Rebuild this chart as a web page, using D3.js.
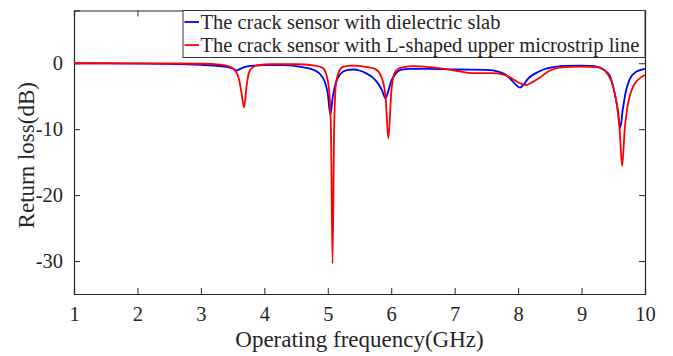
<!DOCTYPE html>
<html>
<head>
<meta charset="utf-8">
<script src="https://cdn.jsdelivr.net/npm/d3@7"></script>
<style>
  html, body { margin: 0; padding: 0; background: #fff; }
  svg { display: block; }
  text { font-family: "Liberation Serif", "Times New Roman", serif; fill: #262626; }
</style>
</head>
<body>
<svg id="chart" width="673" height="356"></svg>
<script>
// Return loss (dB) vs frequency (GHz) for the two sensor variants
const freqBlue = [1.0, 1.5, 2.0, 2.5, 3.0, 3.2, 3.4, 3.5, 3.57, 3.62, 3.7, 3.8, 4.0, 4.3, 4.6, 4.8, 4.9, 4.96, 5.0, 5.04, 5.08, 5.12, 5.2, 5.3, 5.4, 5.5, 5.6, 5.7, 5.78, 5.85, 5.91, 5.96, 6.0, 6.07, 6.15, 6.3, 6.6, 7.0, 7.5, 7.7, 7.8, 7.9, 7.97, 8.03, 8.09, 8.15, 8.28, 8.4, 8.55, 8.7, 9.0, 9.2, 9.35, 9.45, 9.52, 9.57, 9.61, 9.65, 9.7, 9.76, 9.86, 10.0];
const lossBlue = [0, -0.02, -0.05, -0.1, -0.25, -0.35, -0.55, -0.8, -1.1, -0.85, -0.55, -0.4, -0.3, -0.3, -0.6, -1.1, -1.9, -3.0, -4.6, -7.8, -5.0, -3.2, -1.6, -1.05, -0.95, -1.1, -1.5, -2.1, -2.9, -4.0, -5.3, -4.0, -2.7, -1.6, -1.0, -0.85, -0.85, -0.95, -1.0, -1.3, -1.7, -2.6, -3.3, -3.7, -3.2, -2.4, -1.5, -0.95, -0.6, -0.4, -0.35, -0.45, -1.0, -2.0, -4.5, -7.0, -9.8, -7.0, -4.2, -2.4, -1.3, -0.85];

const freqRed = [1.0, 2.0, 3.0, 3.3, 3.45, 3.53, 3.6, 3.64, 3.68, 3.72, 3.76, 3.82, 3.9, 4.1, 4.5, 4.8, 4.92, 4.98, 5.02, 5.05, 5.075, 5.1, 5.13, 5.18, 5.24, 5.4, 5.6, 5.75, 5.85, 5.91, 5.955, 6.0, 6.04, 6.1, 6.2, 6.35, 6.6, 7.0, 7.3, 7.6, 7.8, 7.95, 8.05, 8.12, 8.22, 8.34, 8.5, 8.65, 9.0, 9.25, 9.4, 9.5, 9.56, 9.6, 9.64, 9.68, 9.72, 9.78, 9.89, 10.0];
const lossRed = [0, -0.02, -0.08, -0.2, -0.5, -1.0, -2.4, -4.5, -6.7, -3.5, -1.3, -0.6, -0.3, -0.15, -0.15, -0.35, -0.7, -1.8, -4.0, -10, -30.4, -10, -3.0, -1.2, -0.55, -0.35, -0.55, -0.9, -2.2, -5.0, -11.4, -4.5, -1.8, -0.9, -0.6, -0.45, -0.6, -1.1, -1.5, -1.5, -1.8, -2.6, -3.1, -3.3, -2.9, -2.2, -1.1, -0.65, -0.5, -0.6, -1.5, -3.6, -6.5, -10, -15.6, -10, -6.8, -4.3, -2.5, -1.8];

const xTicks = [1, 2, 3, 4, 5, 6, 7, 8, 9, 10];
const yTicks = [0, -10, -20, -30];
const seriesNames = ["The crack sensor with dielectric slab", "The crack sensor with L-shaped upper microstrip line"];
const seriesColors = ["#0000ff", "#ff0000"];

const margin = { left: 74, right: 28, top: 10.5, bottom: 62 };
const W = 673, H = 356;
const serif = '"Liberation Serif", "Times New Roman", serif';
const svg = d3.select("#chart");

const x = d3.scaleLinear().domain([1, 10]).range([margin.left, W - margin.right]);
const y = d3.scaleLinear().domain([-35, 8]).range([H - margin.bottom, margin.top]);

const axisColor = "#262626";
const tickLen = 6;
const fmt = d => String(d); // plain hyphen-minus for negative labels

// Bottom and top axes (ticks pointing into the plot)
const gx = svg.append("g").attr("transform", `translate(0,${y(-35)})`)
  .call(d3.axisBottom(x).tickValues(xTicks).tickSize(-tickLen).tickPadding(12).tickFormat(fmt));
const gxTop = svg.append("g").attr("transform", `translate(0,${y(8)})`)
  .call(d3.axisTop(x).tickValues(xTicks).tickSize(-tickLen).tickFormat(""));
// Left and right axes
const gy = svg.append("g").attr("transform", `translate(${x(1)},0)`)
  .call(d3.axisLeft(y).tickValues(yTicks).tickSize(-tickLen).tickPadding(11).tickFormat(fmt));
const gyRight = svg.append("g").attr("transform", `translate(${x(10)},0)`)
  .call(d3.axisRight(y).tickValues(yTicks).tickSize(-tickLen).tickFormat(""));

[gx, gxTop, gy, gyRight].forEach(g => {
  g.attr("font-family", null).attr("font-size", null);
  g.select(".domain").attr("stroke", axisColor).attr("stroke-width", 1.2);
  g.selectAll(".tick line").attr("stroke", axisColor).attr("stroke-width", 1);
  g.selectAll(".tick text").style("font-size", "20.5px").style("font-family", serif).attr("fill", axisColor);
});

// Curves
const line = d3.line().x(d => x(d[0])).y(d => y(d[1])).curve(d3.curveMonotoneX);
const clipId = "plotClip";
svg.append("clipPath").attr("id", clipId).append("rect")
  .attr("x", x(1)).attr("y", y(8)).attr("width", x(10) - x(1)).attr("height", y(-35) - y(8));

const blueData = d3.zip(freqBlue, lossBlue);
const redData = d3.zip(freqRed, lossRed);

svg.append("path").datum(blueData).attr("d", line)
  .attr("fill", "none").attr("stroke", seriesColors[0]).attr("stroke-width", 1.8)
  .attr("clip-path", `url(#${clipId})`);
svg.append("path").datum(redData).attr("d", line)
  .attr("fill", "none").attr("stroke", seriesColors[1]).attr("stroke-width", 1.8)
  .attr("clip-path", `url(#${clipId})`);

// Legend box in the upper right corner
const lg = svg.append("g");
const lgX = 183, lgY = y(8), lgW = x(10) - 183, lgH = 47;
lg.append("rect").attr("x", lgX).attr("y", lgY).attr("width", lgW).attr("height", lgH)
  .attr("fill", "#fff").attr("stroke", "#333").attr("stroke-width", 1);
seriesNames.forEach((name, i) => {
  const cy = 22 + i * 23;
  lg.append("line").attr("x1", lgX + 1.5).attr("x2", lgX + 16).attr("y1", cy).attr("y2", cy)
    .attr("stroke", seriesColors[i]).attr("stroke-width", 1.8);
  lg.append("text").attr("x", lgX + 17.5).attr("y", cy + 7)
    .style("font-size", "20.5px").text(name);
});

// Axis titles
svg.append("text").attr("x", (x(1) + x(10)) / 2).attr("y", 347)
  .attr("text-anchor", "middle").style("font-size", "23px").text("Operating frequency(GHz)");
svg.append("text").attr("transform", `translate(34,${(y(8) + y(-35)) / 2 + 3}) rotate(-90)`)
  .attr("text-anchor", "middle").style("font-size", "23px").text("Return loss(dB)");
</script>
</body>
</html>
